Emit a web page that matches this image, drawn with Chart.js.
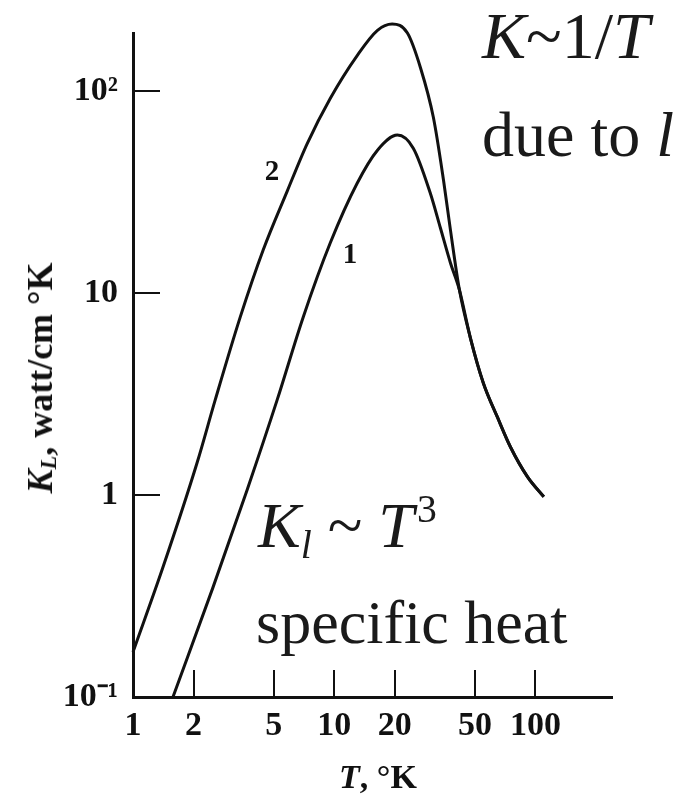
<!DOCTYPE html>
<html lang="en">
<head>
  <meta charset="UTF-8">
  <title>Lattice thermal conductivity vs temperature</title>
  <script src="https://cdn.jsdelivr.net/npm/chart.js"></script>
  <style>
    body {
      margin: 0;
      background-color: #fff;
    }

    #wrap {
      position: relative;
      width: 688px;
      height: 797px;
      font-family: "Liberation Serif", "Times New Roman", serif;
      color: #111;
    }

    .note {
      position: absolute;
      line-height: 1;
      white-space: nowrap;
      color: #1a1a1a;
    }

    .note sub, .note sup, .axis-title sub {
      line-height: 0;
      font-size: 0.62em;
    }

    .note sub { vertical-align: -0.28em; }
    .note sup { vertical-align: 0.62em; margin-left: 0.08em; }

    .axis-title, .curve-label {
      position: absolute;
      line-height: 1;
      white-space: nowrap;
      font-weight: bold;
      transform: translate(-50%, -50%);
    }

    .axis-title sub { vertical-align: -0.2em; }
  </style>
</head>
<body>

<div id="wrap">
  <canvas id="kChart"></canvas>

  <!-- annotations -->
  <div class="note" style="left:482px; top:3px; font-size:66px;"><i>K</i>~1/<i>T</i></div>
  <div class="note" style="left:482px; top:103px; font-size:64px;">due to <i>l</i></div>
  <div class="note" style="left:258px; top:494px; font-size:64px;"><i>K</i><sub><i>l</i></sub> ~ <i>T</i><sup>3</sup></div>
  <div class="note" style="left:256px; top:591px; font-size:62px;">specific heat</div>

  <div class="curve-label" style="left:272px; top:170px; font-size:29px;">2</div>
  <div class="curve-label" style="left:350px; top:253px; font-size:29px;">1</div>

  <div class="axis-title" style="left:40px; top:378px; font-size:36px; transform: translate(-50%, -50%) rotate(-90deg);"><i>K<sub>L</sub></i>, watt/cm °K</div>
  <div class="axis-title" style="left:378px; top:777px; font-size:34px;"><i>T</i>, °K</div>
</div>

<script>
// tick values
const xTickValues = [1, 2, 5, 10, 20, 50, 100];
const yTickValues = [0.1, 1, 10, 100];
const yTickLabels = ['10⁻¹', '1', '10', '10²'];

// curve 1 (T in K, K_L in watt/cm K)
const tempCurve1 = [1.58, 2.5, 3.69, 5.2, 7.01, 9.55, 13.0, 16.4, 20.6, 24.7, 30.0, 33.7, 37.8, 41.9, 47.5, 55.1, 64.7, 75.1, 91.3, 110];
const kCurve1 = [0.1, 0.35, 1.06, 2.95, 7.6, 17.7, 35, 51, 60.6, 52.2, 31.3, 21.0, 14.1, 10.35, 5.99, 3.58, 2.43, 1.73, 1.23, 0.98];

// curve 2
const tempCurve2 = [1, 1.41, 2.08, 2.56, 3.41, 4.43, 5.84, 7.34, 9.55, 13.0, 16.4, 19.4, 23.1, 26.8, 31.1, 34.9, 37.8, 41.9, 47.5, 55.1, 64.7, 75.1, 91.3, 110];
const kCurve2 = [0.167, 0.44, 1.44, 2.95, 7.6, 16.3, 32, 55, 92, 150, 200, 215, 194, 131, 74, 36.3, 20.5, 10.35, 5.99, 3.58, 2.43, 1.73, 1.23, 0.98];

const tickFont = { family: '"Liberation Serif", "Times New Roman", serif', size: 34, weight: 'bold' };

function toPoints(xs, ys) {
  return xs.map((x, i) => ({ x: x, y: ys[i] }));
}

function curve(label, xs, ys) {
  return {
    label: label,
    data: toPoints(xs, ys),
    borderColor: '#111',
    borderWidth: 3,
    pointRadius: 0,
    fill: false,
    cubicInterpolationMode: 'monotone',
    clip: false
  };
}

const canvas = document.getElementById('kChart');
canvas.width = 688;
canvas.height = 797;
canvas.style.width = '688px';
canvas.style.height = '797px';

new Chart(canvas.getContext('2d'), {
  type: 'line',
  data: {
    datasets: [curve('1', tempCurve1, kCurve1), curve('2', tempCurve2, kCurve2)]
  },
  options: {
    responsive: false,
    animation: false,
    layout: { padding: { top: 33, right: 76, bottom: 0, left: 0 } },
    plugins: {
      legend: { display: false },
      tooltip: { enabled: false }
    },
    scales: {
      x: {
        type: 'logarithmic',
        min: 1,
        max: 240,
        afterBuildTicks: s => { s.ticks = xTickValues.map(v => ({ value: v })); },
        afterFit: s => { s.height = 100; s.paddingLeft = 0; s.paddingRight = 0; },
        ticks: {
          autoSkip: false,
          maxRotation: 0,
          padding: 36,
          color: '#111',
          font: tickFont,
          callback: v => String(v)
        },
        grid: { drawOnChartArea: false, drawTicks: true, tickLength: -27, color: '#111', lineWidth: 2 },
        border: { color: '#111', width: 3 }
      },
      y: {
        type: 'logarithmic',
        min: 0.1,
        max: 194,
        afterBuildTicks: s => { s.ticks = yTickValues.map(v => ({ value: v })); },
        afterFit: s => { s.width = 133; s.paddingTop = 0; s.paddingBottom = 0; },
        ticks: {
          autoSkip: false,
          padding: 42,
          color: '#111',
          font: tickFont,
          callback: v => yTickLabels[yTickValues.indexOf(v)]
        },
        grid: { drawOnChartArea: false, drawTicks: true, tickLength: -27, color: '#111', lineWidth: 2 },
        border: { color: '#111', width: 3 }
      }
    }
  }
});
</script>

</body>
</html>
